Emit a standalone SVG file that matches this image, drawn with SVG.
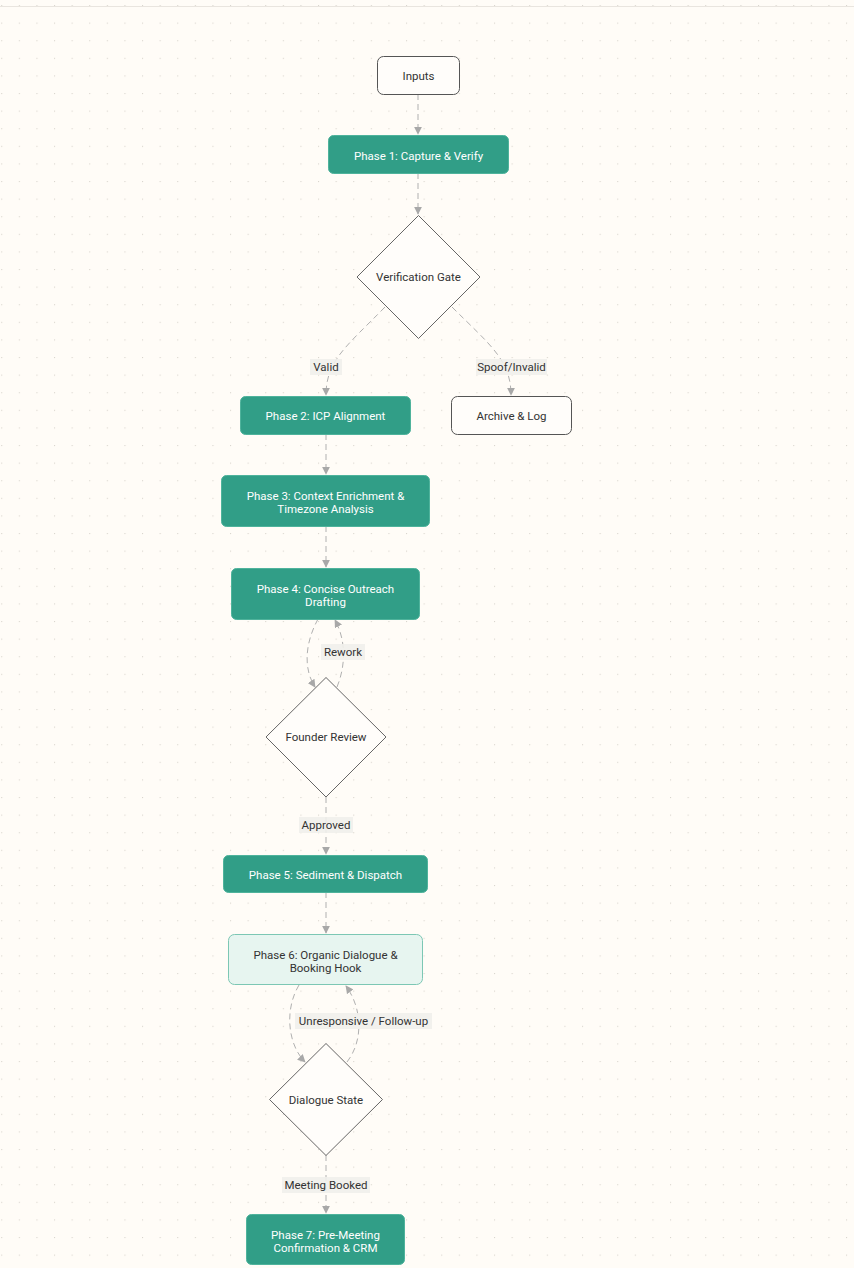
<svg xmlns="http://www.w3.org/2000/svg" width="854" height="1268" viewBox="0 0 854 1268">
<defs>
<pattern id="dots" x="1.2" y="5" width="17.6" height="17.6" patternUnits="userSpaceOnUse">
<rect x="0" y="0" width="1.1" height="1.1" fill="#d9d5ce"/>
</pattern>
<marker id="arr" viewBox="0 0 10 10" refX="9" refY="5" markerWidth="8" markerHeight="8" markerUnits="userSpaceOnUse" orient="auto">
<path d="M0,0 L10,5 L0,10 z" fill="#a8a8a8"/>
</marker>
<style>
.bg{fill:#fffcf7}
.teal{fill:#319e87;stroke:#4fb39c;stroke-width:1}
.plain{fill:#fffdfa;stroke:#555;stroke-width:1}
.light{fill:#e7f5f0;stroke:#7cc7b4;stroke-width:1}
.dia{fill:#fffdfa;stroke:#666;stroke-width:1}
.t{font-family:Roboto,"Liberation Sans",sans-serif;font-size:11.5px;text-anchor:middle;fill:#333}
.tw{font-family:Roboto,"Liberation Sans",sans-serif;font-size:11.5px;text-anchor:middle;fill:#ffffff}
.e{fill:none;stroke:#b0b0b0;stroke-width:1;stroke-dasharray:6 4}
.lb{fill:#f1f0eb;opacity:0.9}
</style>
</defs>
<rect class="bg" x="0" y="0" width="854" height="1268"/>
<rect x="0" y="0" width="854" height="1268" fill="url(#dots)"/>
<line x1="0" y1="6.5" x2="854" y2="6.5" stroke="#e9e5df" stroke-width="1"/>

<g id="connectors">
<path class="e" d="M418 94 L418 134" marker-end="url(#arr)"/>
<path class="e" d="M418 173 L418 214" marker-end="url(#arr)"/>
<path class="e" d="M385 307 C348 345 326 360 326 395" marker-end="url(#arr)"/>
<path class="e" d="M452 307 C490 345 511 360 511 395" marker-end="url(#arr)"/>
<path class="e" d="M326 434 L326 474" marker-end="url(#arr)"/>
<path class="e" d="M326 526 L326 567" marker-end="url(#arr)"/>
<path class="e" d="M318 619 C304 645 304 670 315 687" marker-end="url(#arr)"/>
<path class="e" d="M337 687 C346 665 346 640 335 620" marker-end="url(#arr)"/>
<path class="e" d="M326 797 L326 854" marker-end="url(#arr)"/>
<path class="e" d="M326 892 L326 933" marker-end="url(#arr)"/>
<path class="e" d="M299 985 C284 1010 288 1045 305 1062" marker-end="url(#arr)"/>
<path class="e" d="M347 1062 C364 1040 362 1008 346 986" marker-end="url(#arr)"/>
<path class="e" d="M326 1155 L326 1213" marker-end="url(#arr)"/>
<rect class="lb" x="310" y="359" width="32" height="16"/>
<text class="t" x="326" y="371">Valid</text>
<rect class="lb" x="476" y="359" width="71" height="16"/>
<text class="t" x="511.5" y="371">Spoof/Invalid</text>
<rect class="lb" x="321" y="644" width="44" height="16"/>
<text class="t" x="343" y="656">Rework</text>
<rect class="lb" x="299" y="817" width="54" height="16"/>
<text class="t" x="326" y="829">Approved</text>
<rect class="lb" x="295" y="1013" width="137" height="16"/>
<text class="t" x="363.5" y="1025">Unresponsive / Follow-up</text>
<rect class="lb" x="282" y="1177" width="88" height="16"/>
<text class="t" x="326" y="1189">Meeting Booked</text>
</g>

<g id="inputs"><rect class="plain" x="377.5" y="56.5" width="82" height="38" rx="6"/><text class="t" x="418.5" y="80">Inputs</text></g>
<g id="phase1"><rect class="teal" x="328.5" y="135.5" width="180" height="38" rx="5"/><text class="tw" x="418.5" y="160">Phase 1: Capture &amp; Verify</text></g>
<g id="verification-gate"><polygon class="dia" points="418.5,215.5 480,277 418.5,338.5 357,277"/><text class="t" x="418.5" y="281">Verification Gate</text></g>
<g id="phase2"><rect class="teal" x="240.5" y="396.5" width="170" height="38" rx="5"/><text class="tw" x="325.5" y="420">Phase 2: ICP Alignment</text></g>
<g id="archive"><rect class="plain" x="451.5" y="396.5" width="120" height="38" rx="6"/><text class="t" x="511.5" y="420">Archive &amp; Log</text></g>
<g id="phase3"><rect class="teal" x="221.5" y="475.5" width="208" height="51" rx="5"/><text class="tw" x="325.5" y="499.5">Phase 3: Context Enrichment &amp;</text><text class="tw" x="325.5" y="512.5">Timezone Analysis</text></g>
<g id="phase4"><rect class="teal" x="231.5" y="568.5" width="188" height="51" rx="5"/><text class="tw" x="325.5" y="592.5">Phase 4: Concise Outreach</text><text class="tw" x="325.5" y="605.5">Drafting</text></g>
<g id="founder-review"><polygon class="dia" points="326,677.5 386,737 326,797 266,737"/><text class="t" x="326" y="741">Founder Review</text></g>
<g id="phase5"><rect class="teal" x="223.5" y="855.5" width="204" height="37" rx="5"/><text class="tw" x="325.5" y="879">Phase 5: Sediment &amp; Dispatch</text></g>
<g id="phase6"><rect class="light" x="228.5" y="934.5" width="194" height="50" rx="6"/><text class="t" x="325.5" y="958.5">Phase 6: Organic Dialogue &amp;</text><text class="t" x="325.5" y="971.5">Booking Hook</text></g>
<g id="dialogue-state"><polygon class="dia" points="326,1043.5 382.5,1099.5 326,1155.5 269.5,1099.5"/><text class="t" x="326" y="1104">Dialogue State</text></g>
<g id="phase7"><rect class="teal" x="246.5" y="1214.5" width="158" height="50" rx="5"/><text class="tw" x="325.5" y="1238.5">Phase 7: Pre-Meeting</text><text class="tw" x="325.5" y="1251.5">Confirmation &amp; CRM</text></g>
</svg>
